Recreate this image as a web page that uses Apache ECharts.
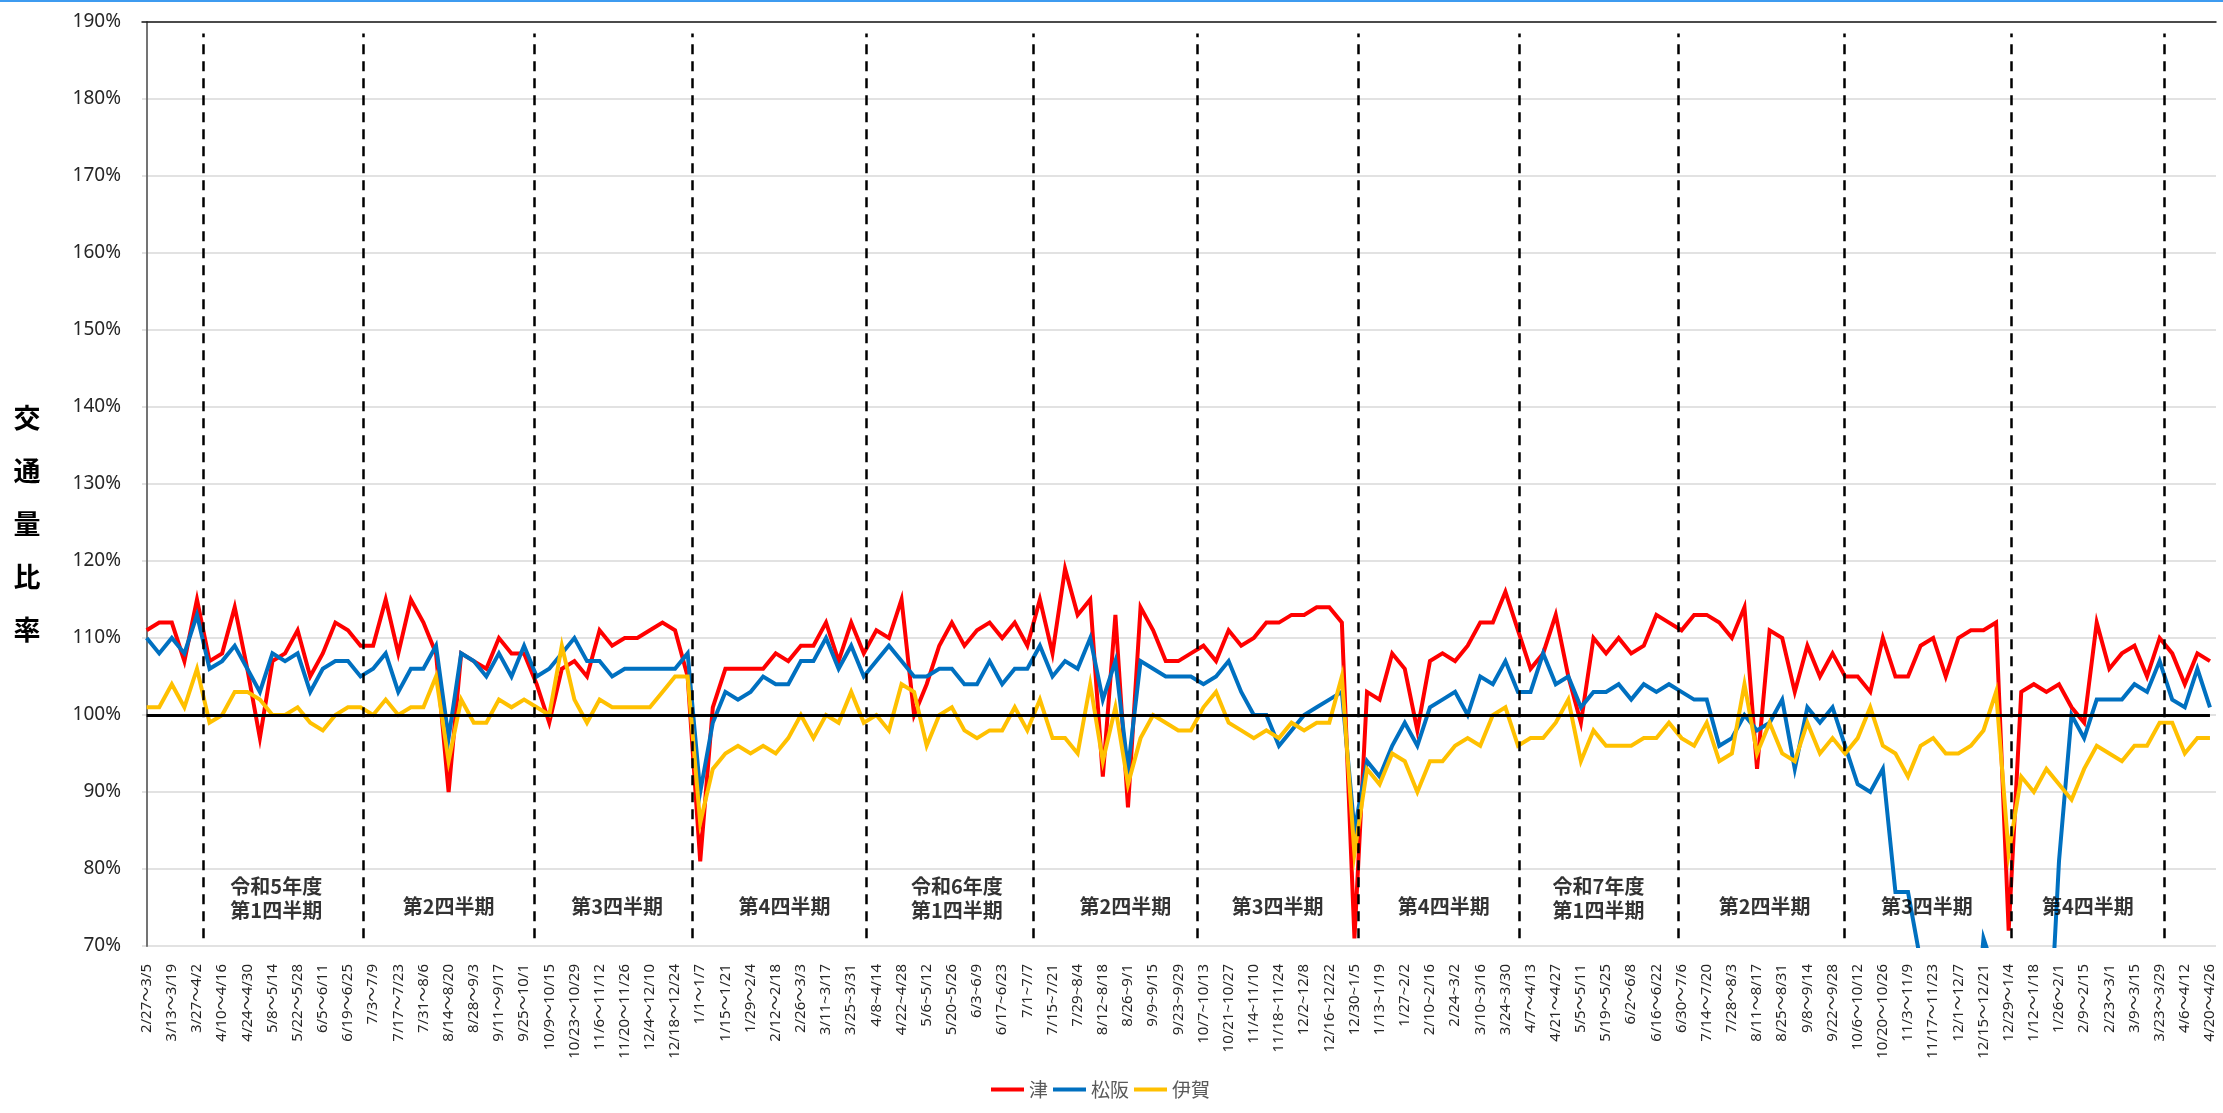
<!DOCTYPE html>
<html>
<head>
<meta charset="utf-8">
<script src="https://cdn.jsdelivr.net/npm/echarts@6/dist/echarts.min.js"></script>
<style>
html, body { margin: 0; padding: 0; background: #fff; }
#main { width: 2223px; height: 1113px; }
</style>
</head>
<body>
<div id="main"></div>
<script>
// 週ラベル（2023/2/27～2026/4/26）
const weekLabels = [
  '2/27～3/5','3/6～3/12','3/13～3/19','3/20～3/26','3/27～4/2','4/3～4/9','4/10～4/16','4/17～4/23','4/24～4/30','5/1～5/7',
  '5/8～5/14','5/15～5/21','5/22～5/28','5/29～6/4','6/5～6/11','6/12～6/18','6/19～6/25','6/26～7/2','7/3～7/9','7/10～7/16',
  '7/17～7/23','7/24～7/30','7/31～8/6','8/7～8/13','8/14～8/20','8/21～8/27','8/28～9/3','9/4～9/10','9/11～9/17','9/18～9/24',
  '9/25～10/1','10/2～10/8','10/9～10/15','10/16～10/22','10/23～10/29','10/30～11/5','11/6～11/12','11/13～11/19','11/20～11/26','11/27～12/3',
  '12/4～12/10','12/11～12/17','12/18～12/24','12/25～12/31','1/1～1/7','1/8～1/14','1/15～1/21','1/22～1/28','1/29～2/4','2/5～2/11',
  '2/12～2/18','2/19～2/25','2/26～3/3','3/4～3/10','3/11~3/17','3/18~3/24','3/25~3/31','4/1~4/7','4/8~4/14','4/15~4/21',
  '4/22~4/28','4/29~5/5','5/6~5/12','5/13~5/19','5/20~5/26','5/27~6/2','6/3~6/9','6/10~6/16','6/17~6/23','6/24~6/30',
  '7/1~7/7','7/8~7/14','7/15~7/21','7/22~7/28','7/29~8/4','8/5~8/11','8/12~8/18','8/19~8/25','8/26~9/1','9/2~9/8',
  '9/9~9/15','9/16~9/22','9/23~9/29','9/30~10/6','10/7~10/13','10/14~10/20','10/21~10/27','10/28~11/3','11/4~11/10','11/11~11/17',
  '11/18~11/24','11/25~12/1','12/2~12/8','12/9~12/15','12/16~12/22','12/23~12/29','12/30~1/5','1/6~1/12','1/13~1/19','1/20~1/26',
  '1/27~2/2','2/3~2/9','2/10~2/16','2/17~2/23','2/24~3/2','3/3~3/9','3/10~3/16','3/17~3/23','3/24~3/30','3/31～4/6',
  '4/7～4/13','4/14～4/20','4/21～4/27','4/28～5/4','5/5～5/11','5/12～5/18','5/19～5/25','5/26～6/1','6/2～6/8','6/9～6/15',
  '6/16～6/22','6/23～6/29','6/30～7/6','7/7～7/13','7/14～7/20','7/21～7/27','7/28～8/3','8/4～8/10','8/11～8/17','8/18～8/24',
  '8/25～8/31','9/1～9/7','9/8～9/14','9/15～9/21','9/22～9/28','9/29～10/5','10/6～10/12','10/13～10/19','10/20～10/26','10/27～11/2',
  '11/3～11/9','11/10～11/16','11/17～11/23','11/24～11/30','12/1～12/7','12/8～12/14','12/15～12/21','12/22～12/28','12/29～1/4','1/5～1/11',
  '1/12～1/18','1/19～1/25','1/26～2/1','2/2～2/8','2/9～2/15','2/16～2/22','2/23～3/1','3/2～3/8','3/9～3/15','3/16～3/22',
  '3/23～3/29','3/30～4/5','4/6～4/12','4/13～4/19','4/20～4/26'
];

// 交通量比率（%）
const tsu = [
  111,112,112,107,115,107,108,114,106,97, 107,108,111,105,108,112,111,109,109,115,
  108,115,112,108,90,108,107,106,110,108, 108,104,99,106,107,105,111,109,110,110,
  111,112,111,105,81,101,106,106,106,106, 108,107,109,109,112,107,112,108,111,110,
  115,100,104,109,112,109,111,112,110,112, 109,115,108,119,113,115,92,113,88,114,
  111,107,107,108,109,107,111,109,110,112, 112,113,113,114,114,112,71,103,102,108,
  106,98,107,108,107,109,112,112,116,111, 106,108,113,105,99,110,108,110,108,109,
  113,112,111,113,113,112,110,114,93,111, 110,103,109,105,108,105,105,103,110,105,
  105,109,110,105,110,111,111,112,72,103, 104,103,104,101,99,112,106,108,109,105,
  110,108,104,108,107
];
const matsusaka = [
  110,108,110,108,113,106,107,109,106,103, 108,107,108,103,106,107,107,105,106,108,
  103,106,106,109,97,108,107,105,108,105, 109,105,106,108,110,107,107,105,106,106,
  106,106,106,108,90,99,103,102,103,105, 104,104,107,107,110,106,109,105,107,109,
  107,105,105,106,106,104,104,107,104,106, 106,109,105,107,106,110,102,107,93,107,
  106,105,105,105,104,105,107,103,100,100, 96,98,100,101,102,103,85,94,92,96,
  99,96,101,102,103,100,105,104,107,103, 103,108,104,105,101,103,103,104,102,104,
  103,104,103,102,102,96,97,100,98,99, 102,93,101,99,101,96,91,90,93,77,
  77,68,60,58,55,52,71,66,55,50, 50,50,81,100,97,102,102,102,104,103,
  107,102,101,106,101
];
const iga = [
  101,101,104,101,106,99,100,103,103,102, 100,100,101,99,98,100,101,101,100,102,
  100,101,101,105,94,102,99,99,102,101, 102,101,100,109,102,99,102,101,101,101,
  101,103,105,105,86,93,95,96,95,96, 95,97,100,97,100,99,103,99,100,98,
  104,103,96,100,101,98,97,98,98,101, 98,102,97,97,95,104,94,101,91,97,
  100,99,98,98,101,103,99,98,97,98, 97,99,98,99,99,105,82,93,91,95,
  94,90,94,94,96,97,96,100,101,96, 97,97,99,102,94,98,96,96,96,97,
  97,99,97,96,99,94,95,104,95,99, 95,94,99,95,97,95,97,101,96,95,
  92,96,97,95,95,96,98,103,82,92, 90,93,91,89,93,96,95,94,96,96,
  99,99,95,97,97
];

// 四半期の区切り（週番号）と見出し
const quarterLines = [4.5, 17.2, 30.8, 43.4, 57.2, 70.5, 83.5, 96.3, 109.1, 121.7, 134.9, 148.2, 160.4];
const quarterNames = [
  '令和5年度\n第1四半期', '第2四半期', '第3四半期', '第4四半期',
  '令和6年度\n第1四半期', '第2四半期', '第3四半期', '第4四半期',
  '令和7年度\n第1四半期', '第2四半期', '第3四半期', '第4四半期'
];
const quarterNamePos = [10.3, 24, 37.4, 50.7, 64.4, 77.8, 89.9, 103.1, 115.4, 128.6, 141.5, 154.3];

const colors = { tsu: '#FF0000', matsusaka: '#0070C0', iga: '#FFC000' };
const jpFont = '"Noto Sans CJK JP", sans-serif';
const numFont = '"Noto Sans", "Noto Sans CJK JP", sans-serif';

const labelValues = weekLabels.map((_, i) => i).filter(i => i % 2 === 0);
const toPairs = arr => arr.map((v, i) => [i, v]);

function lineSeries(name, data, color) {
  return {
    name: name,
    type: 'line',
    xAxisIndex: 0,
    yAxisIndex: 0,
    data: toPairs(data),
    showSymbol: false,
    symbol: 'none',
    clip: true,
    lineStyle: { color: color, width: 4, join: 'miter' },
    itemStyle: { color: color }
  };
}

const chart = echarts.init(document.getElementById('main'), null, { renderer: 'canvas' });

chart.setOption({
  animation: false,
  backgroundColor: '#fff',
  grid: { left: 142, right: 7, top: 22, bottom: 167, containLabel: false },
  graphic: [
    { type: 'rect', left: 0, top: 0, shape: { width: 2223, height: 2 }, style: { fill: '#3D9BF0' } },
    {
      type: 'text', x: 27, y: 524,
      style: {
        text: '交\n通\n量\n比\n率',
        font: 'bold 27px ' + jpFont,
        lineHeight: 53,
        fill: '#000',
        align: 'center',
        verticalAlign: 'middle'
      }
    }
  ],
  legend: {
    data: ['津', '松阪', '伊賀'],
    left: 986,
    top: 1075,
    icon: 'rect',
    itemWidth: 33,
    itemHeight: 4,
    itemGap: 5,
    textStyle: { fontSize: 19, color: '#595959', fontFamily: jpFont }
  },
  xAxis: [
    {
      type: 'value',
      min: -0.37,
      max: 164.48,
      position: 'bottom',
      axisLine: { show: false },
      axisTick: { show: false },
      splitLine: { show: false },
      axisLabel: {
        customValues: labelValues,
        rotate: 90,
        margin: 18,
        fontSize: 15,
        color: '#262626',
        fontFamily: numFont,
        formatter: v => weekLabels[Math.round(v)] || ''
      }
    },
    {
      type: 'value',
      min: -0.37,
      max: 164.48,
      position: 'top',
      axisLine: { show: true, onZero: false, lineStyle: { color: '#1a1a1a', width: 1.5 } },
      axisTick: { show: false },
      axisLabel: { show: false },
      splitLine: { show: false }
    }
  ],
  yAxis: [
    {
      type: 'value',
      min: 70,
      max: 190,
      interval: 10,
      axisLine: { show: true, lineStyle: { color: '#1a1a1a', width: 1.5 } },
      axisTick: { show: false },
      splitLine: { show: true, lineStyle: { color: '#D9D9D9', width: 1.5 } },
      axisLabel: {
        formatter: '{value}%',
        fontSize: 19,
        margin: 21,
        color: '#262626',
        fontFamily: numFont
      }
    },
    {
      type: 'value',
      min: 70,
      max: 190,
      position: 'right',
      axisLine: { show: true, lineStyle: { color: '#7F7F7F', width: 1.5 } },
      axisTick: { show: false },
      axisLabel: { show: false },
      splitLine: { show: false }
    }
  ],
  series: [
    lineSeries('津', tsu, colors.tsu),
    lineSeries('松阪', matsusaka, colors.matsusaka),
    lineSeries('伊賀', iga, colors.iga),
    {
      name: 'quarters',
      type: 'scatter',
      xAxisIndex: 1,
      yAxisIndex: 0,
      symbolSize: 0,
      silent: true,
      z: 5,
      data: quarterNames.map((n, i) => [quarterNamePos[i], n.indexOf('\n') >= 0 ? 76.2 : 75.2, n]),
      label: {
        show: true,
        position: 'inside',
        formatter: p => p.data[2],
        fontSize: 20,
        fontWeight: 'bold',
        lineHeight: 24,
        color: '#000',
        fontFamily: jpFont,
        align: 'center'
      },
      markLine: {
        silent: true,
        symbol: 'none',
        label: { show: false },
        emphasis: { disabled: true },
        data: quarterLines.map(x => [
          { coord: [x, 71], lineStyle: { color: '#000', width: 2.5, type: [10, 7] } },
          { coord: [x, 188.5] }
        ]).concat([[
          { coord: [0, 100], lineStyle: { color: '#000', width: 3, type: 'solid' } },
          { coord: [164, 100] }
        ]])
      }
    }
  ]
});
</script>
</body>
</html>
